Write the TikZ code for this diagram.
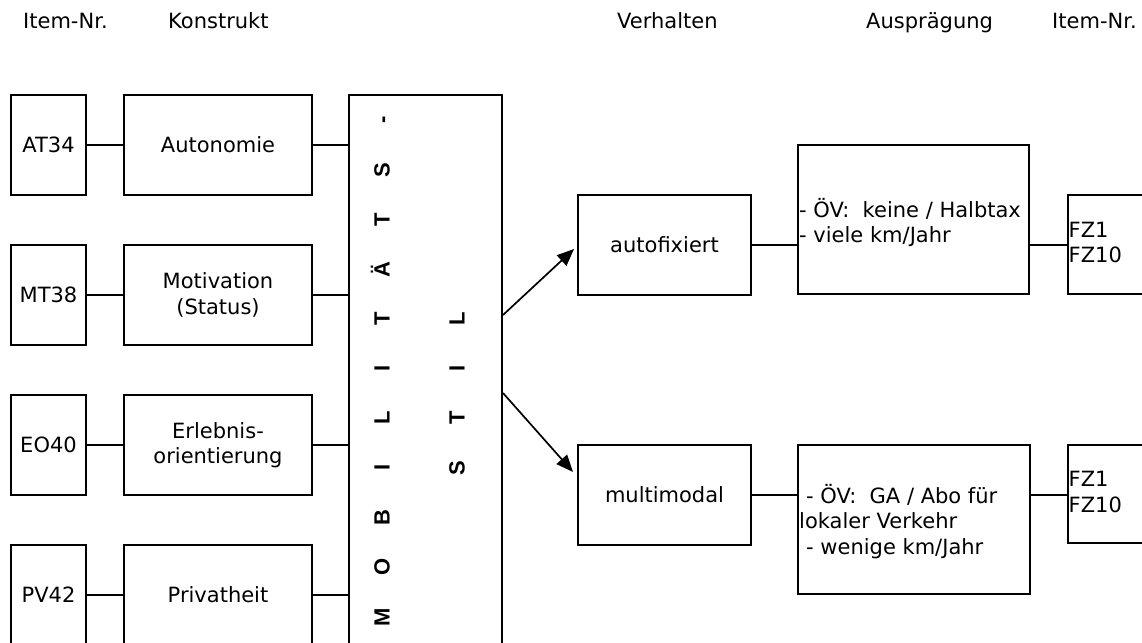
\documentclass[tikz,border=0pt]{standalone}
\usepackage{fontspec}
\setmainfont{DejaVu Sans}
\newfontfamily\stackfont{Liberation Sans}
\newcommand\stacksize{\fontsize{22}{24}\selectfont}
\usetikzlibrary{arrows.meta,calc}
\begin{document}
\begin{tikzpicture}[x=1pt,y=-1pt,
  font=\fontsize{21}{25.5}\selectfont,
  box/.style={draw,line width=2pt,inner sep=0pt},
  conn/.style={line width=2pt},
  arr/.style={line width=1.7pt,-{Triangle[length=17pt,width=14pt]}},
  head/.style={anchor=base west,inner sep=0pt},
  letter/.style={rotate=90,anchor=base,inner sep=0pt},
  plain/.style={anchor=west,align=left,inner sep=0pt}]
\useasboundingbox (0,0) rectangle (1142,642);
\clip (0,0) rectangle (1142,642);

% column headings
\node[head] (h1) at (23,29) {Item-Nr.};
\node[head] (h2) at (168,29) {Konstrukt};
\node[head] (h3) at (617,29) {Verhalten};
\node[head] (h4) at (866,29) {Ausprägung};
\node[head] (h5) at (1052,29) {Item-Nr.};

% item boxes on the left
\node[box,minimum width=75,minimum height=100] (at) at (48.5,145) {AT34};
\node[box,minimum width=75,minimum height=100] (mt) at (48.5,295) {MT38};
\node[box,minimum width=75,minimum height=100] (eo) at (48.5,445) {EO40};
\node[box,minimum width=75,minimum height=100] (pv) at (48.5,595) {PV42};

% constructs
\node[box,minimum width=188,minimum height=100] (aut) at (218,145) {Autonomie};
\node[box,minimum width=188,minimum height=100,align=center] (mot) at (218,295) {Motivation\\(Status)};
\node[box,minimum width=188,minimum height=100,align=center] (erl) at (218,445) {Erlebnis-\\orientierung};
\node[box,minimum width=188,minimum height=100] (priv) at (218,595) {Privatheit};

% central bar with spaced vertical lettering
\node[box,minimum width=153,minimum height=600] (mob) at (425.5,395) {};
\foreach \ch [count=\i from 0] in {M,O,B,I,L,I,T,Ä,T,S,-}
  \node[letter] (ma\i) at (389.5,{617-49.7*\i}) {\stackfont\bfseries\stacksize\ch};
\foreach \ch [count=\i from 3] in {S,T,I,L}
  \node[letter] (mb\i) at (464.5,{617-49.7*\i}) {\stackfont\bfseries\stacksize\ch};

% behaviour
\node[box,minimum width=173,minimum height=100] (auto) at (664.5,245) {autofixiert};
\node[box,minimum width=173,minimum height=100] (multi) at (664.5,495) {multimodal};

% characteristics
\node[box,minimum width=231,minimum height=149] (big1) at (913.5,219.5) {};
\node[plain] (t1) at ($(big1.west)+(2,3)$) {- ÖV:\ \ keine / Halbtax\\- viele km/Jahr};
\node[box,minimum width=232,minimum height=149] (big2) at (914,519.5) {};
\node[plain] (t2) at ($(big2.west)+(2,2)$) {\hspace*{7pt}- ÖV:\ \ GA / Abo für\\lokaler Verkehr\\\hspace*{7pt}- wenige km/Jahr};

% item boxes on the right
\node[box,minimum width=150,minimum height=99] (fz1) at (1143,244.5) {};
\node[plain] (f1) at ($(fz1.west)+(1.5,-2)$) {FZ1\\FZ10};
\node[box,minimum width=150,minimum height=98] (fz2) at (1143,494) {};
\node[plain] (f2) at ($(fz2.west)+(1.5,-2)$) {FZ1\\FZ10};

% connectors
\draw[conn] (at) -- (aut);
\draw[conn] (mt) -- (mot);
\draw[conn] (eo) -- (erl);
\draw[conn] (pv) -- (priv);
\draw[conn] (aut.east) -- (aut.east -| mob.west);
\draw[conn] (mot.east) -- (mot.east -| mob.west);
\draw[conn] (erl.east) -- (erl.east -| mob.west);
\draw[conn] (priv.east) -- (priv.east -| mob.west);
\draw[conn] (auto.east) -- (auto.east -| big1.west);
\draw[conn] (auto.east -| big1.east) -- (auto.east -| fz1.west);
\draw[conn] (multi.east) -- (multi.east -| big2.west);
\draw[conn] (multi.east -| big2.east) -- (multi.east -| fz2.west);
\draw[arr] (mob.east |- 0,315) -- ($(auto.west)+(-3,4)$);
\draw[arr] (mob.east |- 0,393) -- ($(multi.west)+(-4,-23)$);
\end{tikzpicture}
\end{document}
